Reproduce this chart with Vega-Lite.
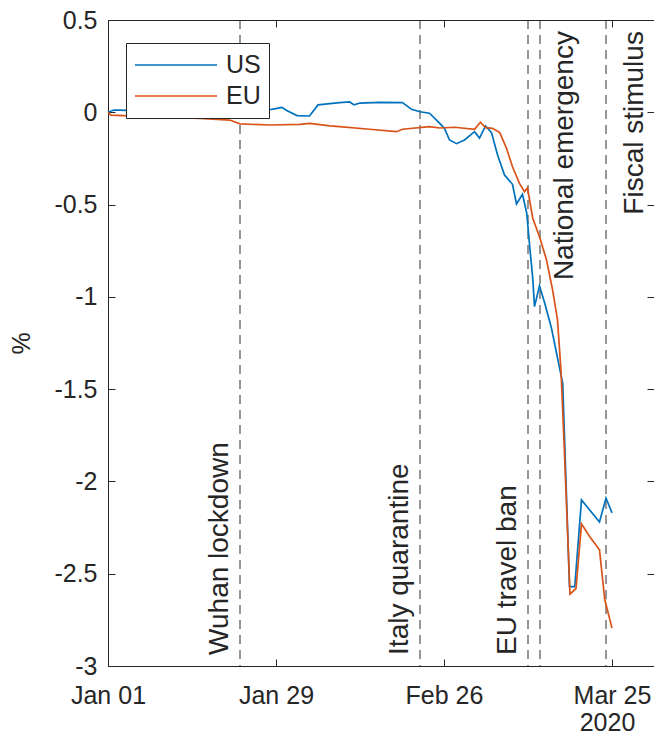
{
  "$schema": "https://vega.github.io/schema/vega-lite/v6.json",
  "width": 546,
  "height": 646,
  "autosize": {"type": "none"},
  "padding": {"left": 108, "top": 20, "right": 0, "bottom": 72},
  "background": "white",
  "config": {
    "view": {"stroke": "#262626", "strokeWidth": 1},
    "font": "Liberation Sans",
    "axis": {
      "domain": false,
      "grid": false,
      "tickColor": "#262626",
      "tickWidth": 1,
      "tickSize": -7,
      "labelColor": "#262626",
      "labelFont": "Liberation Sans",
      "labelFontSize": 25,
      "titleColor": "#262626",
      "titleFont": "Liberation Sans",
      "titleFontSize": 25,
      "titleFontWeight": "normal"
    },
    "text": {"font": "Liberation Sans", "color": "#262626"}
  },
  "datasets": {
    "series": [
      {"series": "US", "date": "2020-01-01T00:00", "value": 0.0},
      {"series": "US", "date": "2020-01-02T00:00", "value": 0.012},
      {"series": "US", "date": "2020-01-03T00:00", "value": 0.012},
      {"series": "US", "date": "2020-01-04T00:00", "value": 0.01},
      {"series": "US", "date": "2020-01-06T00:00", "value": 0.015},
      {"series": "US", "date": "2020-01-09T00:00", "value": 0.01},
      {"series": "US", "date": "2020-01-13T00:00", "value": 0.02},
      {"series": "US", "date": "2020-01-17T00:00", "value": 0.015},
      {"series": "US", "date": "2020-01-21T00:00", "value": 0.01},
      {"series": "US", "date": "2020-01-25T00:00", "value": 0.015},
      {"series": "US", "date": "2020-01-28T07:00", "value": 0.016},
      {"series": "US", "date": "2020-01-30T00:00", "value": 0.027},
      {"series": "US", "date": "2020-01-30T19:00", "value": 0.01},
      {"series": "US", "date": "2020-02-01T12:00", "value": -0.018},
      {"series": "US", "date": "2020-02-03T14:00", "value": -0.02},
      {"series": "US", "date": "2020-02-05T00:00", "value": 0.04},
      {"series": "US", "date": "2020-02-08T14:00", "value": 0.052},
      {"series": "US", "date": "2020-02-10T07:00", "value": 0.056},
      {"series": "US", "date": "2020-02-11T00:00", "value": 0.04},
      {"series": "US", "date": "2020-02-12T00:00", "value": 0.05},
      {"series": "US", "date": "2020-02-15T07:00", "value": 0.054},
      {"series": "US", "date": "2020-02-19T02:00", "value": 0.052},
      {"series": "US", "date": "2020-02-20T14:00", "value": 0.016},
      {"series": "US", "date": "2020-02-22T00:00", "value": 0.003},
      {"series": "US", "date": "2020-02-23T14:00", "value": -0.005},
      {"series": "US", "date": "2020-02-25T07:00", "value": -0.06},
      {"series": "US", "date": "2020-02-26T02:00", "value": -0.087},
      {"series": "US", "date": "2020-02-26T22:00", "value": -0.15},
      {"series": "US", "date": "2020-02-28T02:00", "value": -0.17},
      {"series": "US", "date": "2020-02-29T10:00", "value": -0.15},
      {"series": "US", "date": "2020-03-02T02:00", "value": -0.105},
      {"series": "US", "date": "2020-03-02T22:00", "value": -0.14},
      {"series": "US", "date": "2020-03-03T22:00", "value": -0.074},
      {"series": "US", "date": "2020-03-04T22:00", "value": -0.11},
      {"series": "US", "date": "2020-03-05T22:00", "value": -0.23},
      {"series": "US", "date": "2020-03-07T02:00", "value": -0.34},
      {"series": "US", "date": "2020-03-08T10:00", "value": -0.39},
      {"series": "US", "date": "2020-03-09T02:00", "value": -0.497},
      {"series": "US", "date": "2020-03-10T02:00", "value": -0.444},
      {"series": "US", "date": "2020-03-10T19:00", "value": -0.547},
      {"series": "US", "date": "2020-03-11T07:00", "value": -0.73},
      {"series": "US", "date": "2020-03-11T19:00", "value": -0.9},
      {"series": "US", "date": "2020-03-12T02:00", "value": -1.053},
      {"series": "US", "date": "2020-03-12T22:00", "value": -0.94},
      {"series": "US", "date": "2020-03-13T19:00", "value": -1.035},
      {"series": "US", "date": "2020-03-14T22:00", "value": -1.17},
      {"series": "US", "date": "2020-03-16T19:00", "value": -1.47},
      {"series": "US", "date": "2020-03-17T22:00", "value": -2.57},
      {"series": "US", "date": "2020-03-18T19:00", "value": -2.57},
      {"series": "US", "date": "2020-03-19T22:00", "value": -2.1},
      {"series": "US", "date": "2020-03-22T22:00", "value": -2.22},
      {"series": "US", "date": "2020-03-24T00:00", "value": -2.09},
      {"series": "US", "date": "2020-03-25T00:00", "value": -2.17},
      {"series": "EU", "date": "2020-01-01T00:00", "value": 0.0},
      {"series": "EU", "date": "2020-01-01T12:00", "value": -0.015},
      {"series": "EU", "date": "2020-01-08T00:00", "value": -0.024},
      {"series": "EU", "date": "2020-01-16T07:00", "value": -0.033},
      {"series": "EU", "date": "2020-01-21T07:00", "value": -0.042},
      {"series": "EU", "date": "2020-01-23T00:00", "value": -0.063},
      {"series": "EU", "date": "2020-01-28T00:00", "value": -0.069},
      {"series": "EU", "date": "2020-02-02T00:00", "value": -0.065},
      {"series": "EU", "date": "2020-02-03T14:00", "value": -0.06},
      {"series": "EU", "date": "2020-02-07T00:00", "value": -0.074},
      {"series": "EU", "date": "2020-02-08T14:00", "value": -0.078},
      {"series": "EU", "date": "2020-02-13T14:00", "value": -0.092},
      {"series": "EU", "date": "2020-02-18T02:00", "value": -0.105},
      {"series": "EU", "date": "2020-02-19T02:00", "value": -0.092},
      {"series": "EU", "date": "2020-02-23T14:00", "value": -0.078},
      {"series": "EU", "date": "2020-02-25T07:00", "value": -0.085},
      {"series": "EU", "date": "2020-02-27T19:00", "value": -0.081},
      {"series": "EU", "date": "2020-03-02T02:00", "value": -0.092},
      {"series": "EU", "date": "2020-03-03T02:00", "value": -0.054},
      {"series": "EU", "date": "2020-03-03T22:00", "value": -0.083},
      {"series": "EU", "date": "2020-03-05T02:00", "value": -0.087},
      {"series": "EU", "date": "2020-03-06T07:00", "value": -0.11},
      {"series": "EU", "date": "2020-03-07T10:00", "value": -0.195},
      {"series": "EU", "date": "2020-03-08T10:00", "value": -0.295},
      {"series": "EU", "date": "2020-03-09T14:00", "value": -0.385},
      {"series": "EU", "date": "2020-03-10T10:00", "value": -0.43},
      {"series": "EU", "date": "2020-03-10T22:00", "value": -0.41},
      {"series": "EU", "date": "2020-03-11T19:00", "value": -0.574},
      {"series": "EU", "date": "2020-03-12T22:00", "value": -0.674},
      {"series": "EU", "date": "2020-03-14T02:00", "value": -0.8},
      {"series": "EU", "date": "2020-03-15T02:00", "value": -0.96},
      {"series": "EU", "date": "2020-03-15T22:00", "value": -1.125},
      {"series": "EU", "date": "2020-03-16T12:00", "value": -1.4},
      {"series": "EU", "date": "2020-03-17T02:00", "value": -1.85},
      {"series": "EU", "date": "2020-03-18T00:00", "value": -2.61},
      {"series": "EU", "date": "2020-03-19T00:00", "value": -2.58},
      {"series": "EU", "date": "2020-03-19T22:00", "value": -2.23},
      {"series": "EU", "date": "2020-03-21T07:00", "value": -2.3},
      {"series": "EU", "date": "2020-03-22T22:00", "value": -2.37},
      {"series": "EU", "date": "2020-03-23T19:00", "value": -2.64},
      {"series": "EU", "date": "2020-03-25T00:00", "value": -2.795}
    ],
    "events": [
      {"event": "Wuhan lockdown", "date": "2020-01-23T00:00"},
      {"event": "Italy quarantine", "date": "2020-02-22T00:00"},
      {"event": "EU travel ban", "date": "2020-03-11T00:00"},
      {"event": "National emergency", "date": "2020-03-13T00:00"},
      {"event": "Fiscal stimulus", "date": "2020-03-24T00:00"}
    ]
  },
  "resolve": {"axis": {"x": "independent", "y": "independent"}},
  "layer": [
    {
      "data": {"name": "events"},
      "mark": {"type": "rule", "strokeDash": [9, 6], "color": "#2e2e2e", "strokeWidth": 1},
      "encoding": {
        "x": {
          "field": "date",
          "type": "temporal",
          "scale": {"domain": [{"year": 2020, "month": 1, "date": 1}, {"year": 2020, "month": 4, "date": 1}]},
          "axis": {
            "orient": "bottom",
            "values": [
              {"year": 2020, "month": 1, "date": 1},
              {"year": 2020, "month": 1, "date": 29},
              {"year": 2020, "month": 2, "date": 26},
              {"year": 2020, "month": 3, "date": 25}
            ],
            "format": "%b %d",
            "labelPadding": 24,
            "labelFlush": false,
            "labelOverlap": false,
            "title": "2020",
            "titleX": 499,
            "titleY": 56,
            "titleAlign": "center",
            "titleBaseline": "middle"
          }
        }
      }
    },
    {
      "data": {"name": "series"},
      "mark": {"type": "line", "strokeWidth": 1.7},
      "encoding": {
        "x": {
          "field": "date",
          "type": "temporal",
          "scale": {"domain": [{"year": 2020, "month": 1, "date": 1}, {"year": 2020, "month": 4, "date": 1}]},
          "axis": {
            "orient": "top",
            "labels": false,
            "title": null,
            "values": [
              {"year": 2020, "month": 1, "date": 1},
              {"year": 2020, "month": 1, "date": 29},
              {"year": 2020, "month": 2, "date": 26},
              {"year": 2020, "month": 3, "date": 25}
            ]
          }
        },
        "y": {
          "field": "value",
          "type": "quantitative",
          "scale": {"domain": [-3, 0.5], "nice": false, "zero": false},
          "axis": {
            "orient": "left",
            "values": [-3, -2.5, -2, -1.5, -1, -0.5, 0, 0.5],
            "labelExpr": "datum.value < 0 ? '-' + format(-datum.value, '') : format(datum.value, '')",
            "labelPadding": 18,
            "labelFlush": false,
            "labelOverlap": false,
            "title": "%",
            "titleX": -87,
            "titleY": 323,
            "titleAngle": 270,
            "titleAlign": "center",
            "titleBaseline": "middle"
          }
        },
        "color": {
          "field": "series",
          "type": "nominal",
          "scale": {"domain": ["US", "EU"], "range": ["#0072BD", "#D95319"]},
          "legend": {
            "title": null,
            "orient": "none",
            "legendX": 18,
            "legendY": 23,
            "fillColor": "white",
            "strokeColor": "#262626",
            "padding": 8,
            "symbolType": "stroke",
            "symbolSize": 6724,
            "symbolStrokeWidth": 1.5,
            "clipHeight": 28,
            "rowPadding": 3,
            "labelOffset": 8,
            "labelFontSize": 25,
            "labelColor": "#262626",
            "labelFont": "Liberation Sans"
          }
        }
      }
    },
    {
      "data": {"name": "events"},
      "transform": [{"filter": {"field": "event", "oneOf": ["Wuhan lockdown", "Italy quarantine", "EU travel ban"]}}],
      "mark": {"type": "text", "angle": 270, "align": "left", "baseline": "alphabetic", "dy": -12, "fontSize": 28},
      "encoding": {
        "x": {"field": "date", "type": "temporal", "axis": null},
        "y": {"datum": -2.94, "type": "quantitative", "axis": null},
        "text": {"field": "event"}
      }
    },
    {
      "data": {"name": "events"},
      "transform": [{"filter": {"field": "event", "equal": "National emergency"}}],
      "mark": {"type": "text", "angle": 270, "align": "right", "baseline": "alphabetic", "dy": 33, "fontSize": 28},
      "encoding": {
        "x": {"field": "date", "type": "temporal", "axis": null},
        "y": {"datum": 0.44, "type": "quantitative", "axis": null},
        "text": {"field": "event"}
      }
    },
    {
      "data": {"name": "events"},
      "transform": [{"filter": {"field": "event", "equal": "Fiscal stimulus"}}],
      "mark": {"type": "text", "angle": 270, "align": "right", "baseline": "alphabetic", "dy": 37, "fontSize": 28},
      "encoding": {
        "x": {"field": "date", "type": "temporal", "axis": null},
        "y": {
          "datum": 0.44,
          "type": "quantitative",
          "axis": {"orient": "right", "labels": false, "title": null, "values": [-3, -2.5, -2, -1.5, -1, -0.5, 0, 0.5]}
        },
        "text": {"field": "event"}
      }
    }
  ]
}
